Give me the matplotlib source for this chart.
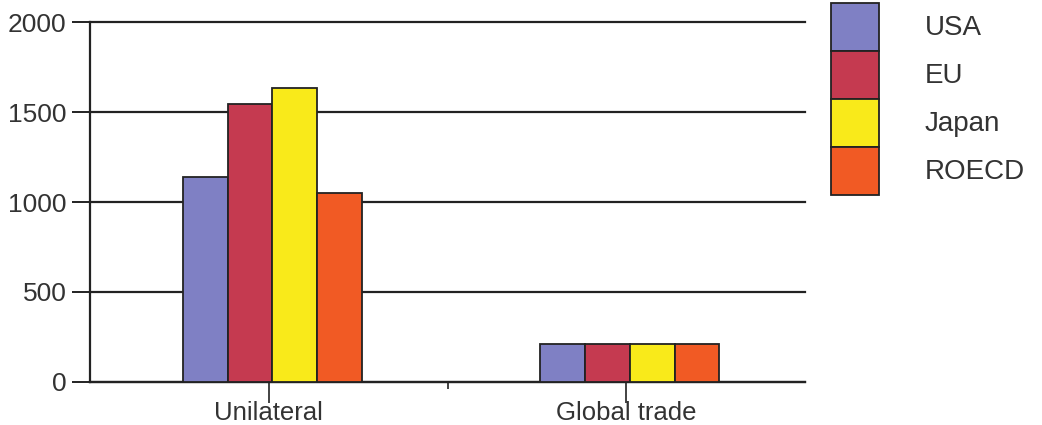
import matplotlib
matplotlib.use("Agg")
import matplotlib.pyplot as plt
import numpy as np
from matplotlib.patches import Patch

categories = ["Unilateral", "Global trade"]
regions = ["USA", "EU", "Japan", "ROECD"]
usa = [1140, 210]
eu = [1545, 210]
japan = [1635, 210]
roecd = [1050, 210]
colors = ["#7f80c4", "#c53a50", "#f9ea1a", "#f15a24"]

plt.rcParams['font.family'] = ['Liberation Sans', 'DejaVu Sans']

fig = plt.figure(figsize=(10.42, 4.25), dpi=100)
ax = fig.add_axes([0.0864, 0.1012, 0.6862, 0.8470])

x = np.arange(len(categories))
width = 0.125
series = [usa, eu, japan, roecd]
for i, (vals, col) in enumerate(zip(series, colors)):
    ax.bar(x + (i - 1.5) * width + 0.01, vals, width, color=col,
           edgecolor="#222222", linewidth=1.3, zorder=3, label=regions[i])

ax.set_xlim(-0.5, 1.5)
ax.set_ylim(0, 2000)
ax.set_yticks([0, 500, 1000, 1500, 2000])
ax.yaxis.grid(True, color="#222222", linewidth=1.6, zorder=1)
ax.set_axisbelow(True)
# keep the 2000 line at full width on the top edge
for gl in ax.get_ygridlines():
    gl.set_clip_on(False)

ax.set_xticks(x)
ax.set_xticklabels(categories)
ax.set_xticks([0.5], minor=True)
ax.tick_params(axis="x", which="major", direction="out", length=15, width=1.2,
               labelsize=18.5, pad=-1, colors="#222222", labelcolor="#333333")
ax.tick_params(axis="x", which="minor", direction="out", length=5, width=1.2,
               colors="#222222")
ax.tick_params(axis="y", direction="out", length=13, width=1.4,
               labelsize=19, pad=4, colors="#222222", labelcolor="#333333")

for side in ["top", "right"]:
    ax.spines[side].set_visible(False)
for side in ["left", "bottom"]:
    ax.spines[side].set_color("#222222")
    ax.spines[side].set_linewidth(1.6)

handles = [Patch(facecolor=c, edgecolor="#222222", linewidth=1.3) for c in colors]
fig.legend(handles, regions, loc="upper left", bbox_to_anchor=(0.795, 1.0),
           frameon=False, fontsize=20, labelspacing=0.0, handlelength=1.72,
           handleheight=2.28, handletextpad=1.65, borderpad=0.1,
           borderaxespad=0, labelcolor="#333333")

fig.savefig("out.png", dpi=100, facecolor="white")
